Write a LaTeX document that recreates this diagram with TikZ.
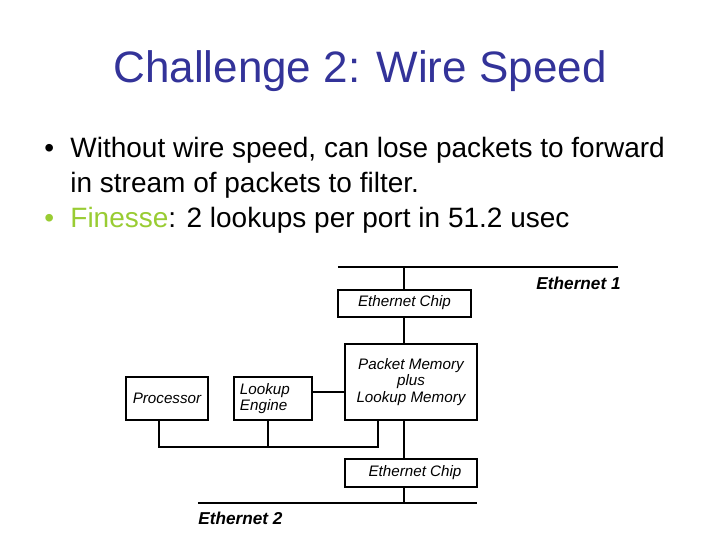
\documentclass[tikz,border=0pt]{standalone}
\usepackage{fontspec}
\setmainfont{Liberation Sans}
\usepackage{tikz}
\usetikzlibrary{
  positioning
}
\definecolor{titleblue}{HTML}{333399}
\definecolor{finessegreen}{HTML}{99CC33}

\tikzset{
  hw/.style={draw=black, line width=1pt, fill=white, inner sep=2pt,
    font=\fontsize{7.6pt}{8.2pt}\selectfont\itshape},
  wire/.style={draw=black, line width=1pt},
  netlabel/.style={font=\fontsize{8.6pt}{9pt}\selectfont\bfseries\itshape, inner sep=0pt},
  bulletline/.style={anchor=base west, inner sep=0pt, font=\fontsize{14pt}{16pt}\selectfont}
}

\begin{document}
\begin{tikzpicture}[x=0.5pt, y=-0.5pt]
\useasboundingbox (0,0) rectangle (720,540);

% title and bullets
\node[font=\fontsize{22pt}{24pt}\selectfont, text=titleblue] (title) at (360,71) {Challenge 2: Wire Speed};
\node[bulletline] (b1) at (44,158) {\textbullet};
\node[bulletline] (t1) at (70,158) {Without wire speed, can lose packets to forward};
\node[bulletline] (t2) at (70,193) {in stream of packets to filter.};
\node[bulletline, text=finessegreen] (b2) at (44,228) {\textbullet};
\node[bulletline] (t3) at (70,228) {\textcolor{finessegreen}{Finesse}: 2 lookups per port in 51.2 usec};

% networks
\coordinate (e1w) at (338,267);
\coordinate (e1e) at (618,267);
\coordinate (e2w) at (198,503);
\coordinate (e2e) at (477,503);
\draw[wire] (e1w) -- (e1e);
\draw[wire] (e2w) -- (e2e);
\node[netlabel, anchor=east] (eth1) at (621,283) {Ethernet 1};
\node[netlabel, anchor=west] (eth2) at (198,518) {Ethernet 2};

% boxes
\node[hw, minimum width=66.5pt, minimum height=13.5pt] (chipA) at (404.5,303.5) {\raisebox{3pt}{Ethernet Chip}};
\node[hw, minimum width=66pt, minimum height=38pt, align=center,
  font=\fontsize{7.6pt}{8.4pt}\selectfont\itshape] (pktmem) at (411,382) {Packet Memory\\plus\\Lookup Memory};
\node[hw, minimum width=41pt, minimum height=21.5pt] (proc) at (167,398.5) {Processor};
\node[hw, minimum width=39pt, minimum height=21.5pt, align=left, text width=33pt,
  font=\fontsize{7.6pt}{8pt}\selectfont\itshape] (lookup) at (273,398.5) {Lookup\\Engine\\[2pt]};
\node[hw, minimum width=66pt, minimum height=14pt] (chipB) at (411,473) {\hspace{4pt}Ethernet Chip};

% connections
\draw[wire] (chipA.north |- e1w) -- (chipA.north);
\draw[wire] (chipA.south) -- (chipA.south |- pktmem.north);
\draw[wire] (lookup.east |- 0,392) -- (pktmem.west |- 0,392);
\draw[wire] (chipA.south |- pktmem.south) -- (chipA.south |- chipB.north);
\draw[wire] (chipA.south |- chipB.south) -- (chipA.south |- e2w);
\coordinate (busL) at (159,447);
\coordinate (busR) at (378,447);
\draw[wire] (proc.south -| busL) -- (busL) -- (busR) -- (pktmem.south -| busR);
\draw[wire] (lookup.south -| 268,0) -- (busL -| 268,0);
\end{tikzpicture}
\end{document}
